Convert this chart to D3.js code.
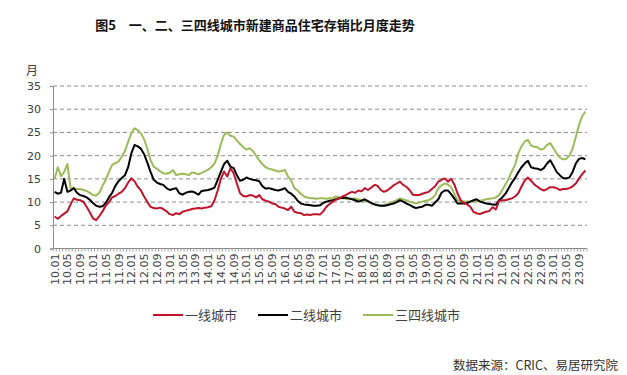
<!DOCTYPE html>
<html>
<head>
<meta charset="utf-8">
<script src="https://cdn.jsdelivr.net/npm/d3@7"></script>
<style>
  body { margin: 0; background: #fff; }
  svg { display: block; }
</style>
</head>
<body>
<div id="chart"></div>
<script>
// Monthly inventory-to-sales ratio (months), 2010.01 - 2023.11
const tier1 = [
  6.9, 6.4, 7.0, 7.5, 8.0, 9.5, 10.8, 10.5, 10.4, 10.1, 9.0, 7.8,
  6.5, 6.1, 7.0, 8.0, 9.2, 10.0, 11.0, 11.3, 11.8, 12.2, 13.0, 14.2,
  15.1, 14.5, 13.3, 12.5, 11.2, 10.0, 9.0, 8.7, 8.6, 8.8, 8.5, 8.0,
  7.4, 7.2, 7.6, 7.4, 7.9, 8.1, 8.3, 8.5, 8.6, 8.7, 8.6, 8.8,
  8.9, 9.1, 10.4, 12.5, 15.0, 16.6, 15.5, 17.3, 16.2, 14.0, 11.9, 11.3,
  11.2, 11.5, 11.4, 11.0, 11.5, 10.6, 10.3, 10.1, 9.7, 9.6, 9.0, 8.8,
  8.6, 8.3, 9.0, 7.9, 7.7, 7.6, 7.2, 7.3, 7.2, 7.4, 7.4, 7.3,
  8.0, 9.0, 9.6, 10.1, 10.5, 10.8, 11.2, 11.5, 11.9, 12.2, 12.0, 12.5,
  12.3, 13.0, 12.6, 13.1, 13.7, 13.5, 12.6, 12.2, 12.5, 13.0, 13.6, 14.0,
  14.4, 13.7, 13.3, 12.6, 11.6, 11.5, 11.5, 11.8, 12.0, 12.2, 12.8, 13.4,
  14.4, 14.8, 15.1, 14.4, 15.0, 13.8, 11.9, 10.4, 9.8, 9.5, 9.0, 7.9,
  7.6, 7.4, 7.7, 7.9, 8.1, 8.9, 8.4, 10.2, 10.4, 10.4, 10.6, 10.8,
  11.2, 11.9, 13.3, 14.6, 15.3, 14.6, 13.8, 13.3, 12.8, 12.5, 12.8, 13.2,
  13.2, 13.0, 12.6, 12.8, 12.8, 13.0, 13.4, 14.0, 15.1, 16.0, 16.8
];
const tier2 = [
  12.2, 11.8, 12.0, 15.0, 12.2, 12.5, 13.0, 12.0, 11.5, 11.3, 11.0, 10.5,
  9.8, 9.2, 9.0, 9.1, 9.8, 11.0, 12.0, 13.5, 14.5, 15.2, 15.8, 17.5,
  20.5, 22.3, 22.0, 21.5, 20.3, 18.5, 16.5, 14.8, 14.2, 13.9, 13.7, 13.0,
  12.6, 12.8, 13.0, 11.9, 11.6, 12.0, 12.2, 12.3, 12.0, 11.6, 12.4, 12.5,
  12.6, 12.8, 13.1, 14.8, 16.5, 18.2, 18.9, 17.6, 17.3, 15.8, 14.6, 14.8,
  15.3, 15.0, 14.8, 14.7, 14.5, 13.4, 12.9, 13.0, 12.8, 12.6, 12.5, 12.7,
  13.0, 12.2, 11.8, 11.2, 10.3, 9.7, 9.5, 9.4, 9.3, 9.2, 9.2, 9.3,
  9.8, 10.1, 10.3, 10.4, 10.6, 10.8, 10.9, 11.0, 10.8, 10.6, 10.4, 10.1,
  10.3, 10.6, 10.2, 9.8, 9.5, 9.3, 9.2, 9.2, 9.3, 9.5, 9.7, 10.0,
  10.4, 10.1, 9.7, 9.4, 9.0, 8.7, 8.9, 9.0, 9.4, 9.4, 9.2, 9.9,
  10.6, 12.0, 12.5, 12.5, 11.7, 10.8, 9.7, 9.7, 9.7, 9.8, 10.1, 10.4,
  10.6, 10.1, 9.9, 9.7, 9.6, 9.5, 9.4, 10.4, 11.0, 11.8, 13.0, 14.2,
  15.2, 16.4, 17.5, 18.3, 18.9, 17.5, 17.3, 17.2, 16.9, 17.3, 18.3, 19.0,
  17.8, 16.5, 15.8, 15.2, 15.1, 15.3, 16.5, 18.3, 19.3, 19.5, 19.2
];
const tier34 = [
  15.0, 17.5, 15.6, 16.5, 18.2, 13.0, 12.9, 12.8, 12.8, 12.6, 12.4, 12.0,
  11.5, 11.4, 12.0, 13.5, 14.8, 16.5, 18.0, 18.4, 18.7, 19.8, 21.0, 23.0,
  24.8, 25.9, 25.5, 24.8, 23.5, 21.5, 19.0, 17.6, 17.2, 16.6, 16.2, 16.1,
  16.3, 16.9, 15.8, 16.0, 16.1, 16.0, 15.8, 16.4, 16.2, 16.0, 16.3, 16.6,
  17.0, 17.5, 18.3, 20.0, 22.5, 24.5, 25.0, 24.3, 24.1, 23.3, 22.5, 21.8,
  21.3, 21.6, 21.0, 20.0, 19.0, 18.2, 17.5, 17.2, 17.0, 16.8, 16.6, 16.7,
  16.9, 15.5, 14.6, 13.0, 12.5, 11.8, 11.2, 11.0, 10.8, 10.8, 10.7, 10.8,
  10.8, 10.7, 10.8, 10.9, 11.2, 11.0, 10.8, 10.7, 10.6, 10.7, 10.8, 10.6,
  10.4, 10.2, 10.1, 9.8, 9.6, 9.4, 9.2, 9.3, 9.6, 9.8, 10.1, 10.4,
  10.8, 10.6, 10.4, 10.1, 9.9, 9.7, 9.9, 10.1, 10.3, 10.4, 10.8, 11.5,
  13.0, 13.6, 14.0, 13.8, 13.2, 11.8, 10.4, 10.2, 10.1, 10.1, 10.1, 10.1,
  10.2, 10.3, 10.4, 10.6, 10.7, 10.8, 11.0, 11.5, 12.6, 13.8, 15.1, 16.6,
  18.0, 20.5, 22.0, 23.0, 23.4, 22.2, 21.9, 21.8, 21.3, 21.5, 22.3, 22.7,
  21.6, 20.5, 19.6, 19.2, 19.3, 20.0, 21.5, 24.0, 26.6, 28.5, 29.5
];
const seriesNames = ['一线城市', '二线城市', '三四线城市'];
const seriesColors = ['#C0142B', '#000000', '#9BBB59'];
const yTicks = [0, 5, 10, 15, 20, 25, 30, 35];

// Month categories "10.01" ... "23.11"
const months = [];
for (let i = 0; i < tier1.length; i++) {
  const y = 10 + Math.floor(i / 12);
  const m = (i % 12) + 1;
  months.push(y + '.' + (m < 10 ? '0' + m : m));
}

const width = 627, height = 375;
const svg = d3.select('#chart').append('svg')
  .attr('width', width)
  .attr('height', height);

const x = d3.scalePoint().domain(months).range([53, 587]).padding(0.5);
const step = x.step();
const y = d3.scaleLinear().domain([0, 35]).range([248.5, 86]);

// Title
svg.append('text')
  .attr('x', 255).attr('y', 30)
  .attr('text-anchor', 'middle')
  .style('font-family', '"Noto Sans CJK SC", sans-serif')
  .style('font-size', '13px')
  .style('font-weight', 'bold')
  .attr('fill', '#111')
  .text('图5　一、二、三四线城市新建商品住宅存销比月度走势');

// Unit label
svg.append('text')
  .attr('x', 32).attr('y', 75)
  .attr('text-anchor', 'middle')
  .style('font-family', '"Noto Sans CJK SC", sans-serif')
  .style('font-size', '12px')
  .attr('fill', '#404040')
  .text('月');

// Gridlines
svg.append('g')
  .selectAll('line')
  .data(yTicks.filter(d => d > 0))
  .join('line')
  .attr('x1', 53).attr('x2', 587)
  .attr('y1', d => y(d)).attr('y2', d => y(d))
  .attr('stroke', '#8c8c8c')
  .attr('stroke-width', 1)
  .attr('stroke-dasharray', '4,3');

// Y axis
const yAxis = svg.append('g')
  .attr('transform', 'translate(53,0)')
  .call(d3.axisLeft(y).tickValues(yTicks).tickSize(3).tickPadding(9));
yAxis.select('.domain').attr('stroke', '#8c8c8c');
yAxis.selectAll('.tick line').attr('stroke', '#8c8c8c');
yAxis.selectAll('.tick text')
  .style('font-family', '"DejaVu Sans", sans-serif')
  .style('font-size', '11px')
  .attr('fill', '#404040');

// X axis: month tick marks between categories
const xg = svg.append('g');
xg.append('line')
  .attr('x1', 53).attr('x2', 587)
  .attr('y1', y(0)).attr('y2', y(0))
  .attr('stroke', '#8c8c8c');
xg.selectAll('line.mt')
  .data(d3.range(months.length + 1))
  .join('line')
  .attr('class', 'mt')
  .attr('x1', i => 53 + i * step).attr('x2', i => 53 + i * step)
  .attr('y1', y(0)).attr('y2', y(0) + 3)
  .attr('stroke', '#8c8c8c')
  .attr('stroke-width', 0.8);
xg.selectAll('text')
  .data(months.filter((d, i) => i % 4 === 0))
  .join('text')
  .attr('transform', d => `translate(${x(d) + 4},${y(0) + 5}) rotate(-90)`)
  .attr('text-anchor', 'end')
  .style('font-family', '"DejaVu Sans", sans-serif')
  .style('font-size', '11px')
  .attr('fill', '#404040')
  .text(d => d);

// Lines
const line = d3.line()
  .x((d, i) => x(months[i]))
  .y(d => y(d));

const allSeries = [tier1, tier2, tier34];
[2, 1, 0].forEach(k => {
  svg.append('path')
    .datum(allSeries[k])
    .attr('d', line)
    .attr('fill', 'none')
    .attr('stroke', seriesColors[k])
    .attr('stroke-width', 2)
    .attr('stroke-linejoin', 'round');
});

// Legend
const legendX = [153, 258, 363];
const legend = svg.append('g');
seriesNames.forEach((name, k) => {
  legend.append('line')
    .attr('x1', legendX[k]).attr('x2', legendX[k] + 30)
    .attr('y1', 315).attr('y2', 315)
    .attr('stroke', seriesColors[k])
    .attr('stroke-width', 2);
  legend.append('text')
    .attr('x', legendX[k] + 32).attr('y', 320)
    .style('font-family', '"Noto Sans CJK SC", sans-serif')
    .style('font-size', '13px')
    .attr('fill', '#404040')
    .text(name);
});

// Source
svg.append('text')
  .attr('x', 618).attr('y', 370)
  .attr('text-anchor', 'end')
  .style('font-family', '"Noto Sans CJK SC", sans-serif')
  .style('font-size', '12.5px')
  .attr('fill', '#333')
  .text('数据来源：CRIC、易居研究院');
</script>
</body>
</html>
